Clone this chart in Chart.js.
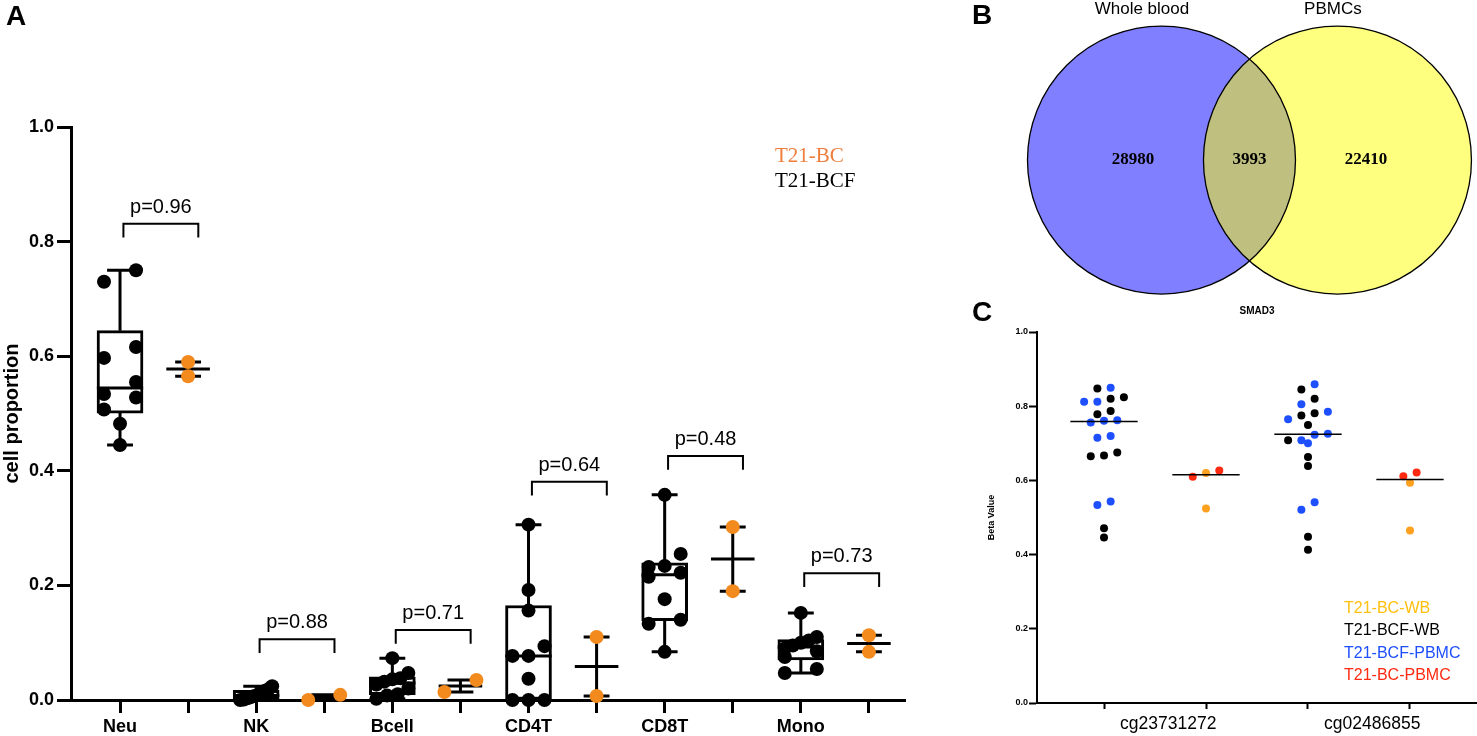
<!DOCTYPE html>
<html>
<head>
<meta charset="utf-8">
<script src="https://cdn.jsdelivr.net/npm/chart.js@4.4.1/dist/chart.umd.min.js"></script>
<style>
  body { margin: 0; background: #fff; width: 1477px; height: 736px; overflow: hidden; position: relative;
         font-family: "Liberation Sans", Arial, sans-serif; }
  canvas { position: absolute; }
  .panel { position: absolute; font-weight: bold; font-size: 28px; line-height: 1; }
  .legA { position: absolute; left: 775px; top: 143px; font-family: "Liberation Serif", "Times New Roman", serif;
          font-size: 21px; line-height: 25px; white-space: nowrap; }
  .legC { position: absolute; left: 1344px; top: 597px; font-size: 16px; line-height: 22.4px; white-space: nowrap; }
</style>
</head>
<body>
<canvas id="chartA" width="920" height="736" style="left:0;top:0"></canvas>
<canvas id="chartB" width="517" height="300" style="left:960px;top:0"></canvas>
<canvas id="chartC" width="517" height="436" style="left:960px;top:300px"></canvas>

<div class="panel" style="left:6px;top:2px">A</div>
<div class="panel" style="left:972px;top:1px">B</div>
<div class="panel" style="left:972px;top:298px">C</div>

<div class="legA">
  <div style="color:#ef7d3b">T21-BC</div>
  <div style="color:#000">T21-BCF</div>
</div>
<div class="legC">
  <div style="color:#ffc00e">T21-BC-WB</div>
  <div style="color:#000">T21-BCF-WB</div>
  <div style="color:#1d4fff">T21-BCF-PBMC</div>
  <div style="color:#ff2a10">T21-BC-PBMC</div>
</div>

<script>
// ---- panel A: estimated cell proportions ----
var cellTypes = ['Neu', 'NK', 'Bcell', 'CD4T', 'CD8T', 'Mono'];
var bcfProp = [
  [0.750, 0.730, 0.616, 0.597, 0.555, 0.534, 0.528, 0.507, 0.482, 0.445],
  [0.024, 0.019, 0.016, 0.012, 0.009, 0.007, 0.005, 0.003, 0.001, 0.000],
  [0.073, 0.047, 0.038, 0.036, 0.032, 0.027, 0.020, 0.010, 0.008, 0.002],
  [0.306, 0.192, 0.156, 0.094, 0.077, 0.077, 0.037, 0.000, 0.000, 0.000],
  [0.358, 0.255, 0.234, 0.232, 0.222, 0.215, 0.176, 0.140, 0.133, 0.084],
  [0.152, 0.110, 0.104, 0.100, 0.095, 0.090, 0.085, 0.075, 0.054, 0.047]
];
var bcProp = [
  [0.590, 0.565],
  [0.000, 0.009],
  [0.014, 0.035],
  [0.110, 0.007],
  [0.302, 0.190],
  [0.113, 0.084]
];
var pValues = ['p=0.96', 'p=0.88', 'p=0.71', 'p=0.64', 'p=0.48', 'p=0.73'];
var bracketTop = [0.831, 0.106, 0.122, 0.381, 0.426, 0.221];

// ---- panel B: overlap counts ----
var vennSets = ['Whole blood', 'PBMCs'];
var vennCounts = [28980, 3993, 22410];

// ---- panel C: SMAD3 beta values ----
var cpgSites = ['cg23731272', 'cg02486855'];
var bcfWB = [
  [0.824, 0.848, 0.820, 0.778, 0.787, 0.667, 0.675, 0.665, 0.471, 0.446],
  [0.845, 0.820, 0.781, 0.775, 0.749, 0.708, 0.663, 0.639, 0.448, 0.413]
];
var bcfPBMC = [
  [0.850, 0.812, 0.812, 0.756, 0.761, 0.762, 0.715, 0.720, 0.534, 0.543],
  [0.859, 0.805, 0.785, 0.765, 0.726, 0.708, 0.723, 0.700, 0.541, 0.521]
];
var bcWB = [
  [0.620, 0.524],
  [0.594, 0.465]
];
var bcPBMC = [
  [0.627, 0.610],
  [0.611, 0.621]
];

Chart.defaults.font.family = '"Liberation Sans", Arial, sans-serif';
Chart.defaults.color = '#000';
Chart.defaults.animation = false;
Chart.defaults.plugins.legend.display = false;
Chart.defaults.plugins.tooltip.enabled = false;

function quant(sorted, p) {
  var pos = (sorted.length + 1) * p;
  var lo = Math.floor(pos), f = pos - lo;
  if (lo < 1) return sorted[0];
  if (lo >= sorted.length) return sorted[sorted.length - 1];
  return sorted[lo - 1] + f * (sorted[lo] - sorted[lo - 1]);
}
function stats(vals) {
  var s = vals.slice().sort(function (a, b) { return a - b; });
  return { min: s[0], max: s[s.length - 1], q1: quant(s, 0.25), med: quant(s, 0.5), q3: quant(s, 0.75) };
}
function mean(vals) {
  return vals.reduce(function (a, b) { return a + b; }, 0) / vals.length;
}
// scatter-dot layout: points close in value share a row and are spread sideways
function swarm(vals, tol, place) {
  var idx = vals.map(function (v, i) { return i; }).sort(function (a, b) { return vals[b] - vals[a]; });
  var off = vals.map(function () { return 0; });
  var row = [];
  function flush() {
    row.sort(function (a, b) { return vals[a] - vals[b]; });
    row.forEach(function (i, j) { off[i] = place(j, row.length); });
    row = [];
  }
  idx.forEach(function (i) {
    if (row.length && vals[row[0]] - vals[i] >= tol) flush();
    row.push(i);
  });
  flush();
  return off;
}
function seg(arr, x1, y1, x2, y2) {
  arr.push({ x: x1, y: y1 }, { x: x2, y: y2 }, { x: x2, y: null });
}

// ================= panel A =================
var boxes = [], boxLines = [], bcLines = [], brackets = [], bcfPts = [], bcPts = [];
var placeA = function (j, n) { return n === 1 ? 0 : -0.235 + j * 0.47 / (n - 1); };

cellTypes.forEach(function (c, k) {
  var xa = 2 * k, xb = 2 * k + 1;
  var s = stats(bcfProp[k]);
  boxes.push({ x: xa, y: [s.q1, s.q3] });
  seg(boxLines, xa - 0.34, s.med, xa + 0.34, s.med);
  seg(boxLines, xa, s.q3, xa, s.max);
  seg(boxLines, xa, s.q1, xa, s.min);
  seg(boxLines, xa - 0.19, s.max, xa + 0.19, s.max);
  seg(boxLines, xa - 0.19, s.min, xa + 0.19, s.min);

  var offA = swarm(bcfProp[k], 0.0244, placeA);
  bcfProp[k].forEach(function (v, i) { bcfPts.push({ x: xa + offA[i], y: v }); });

  var m = mean(bcProp[k]);
  var lo = Math.min.apply(null, bcProp[k]), hi = Math.max.apply(null, bcProp[k]);
  seg(bcLines, xb - 0.32, m, xb + 0.32, m);
  seg(bcLines, xb, lo, xb, hi);
  seg(bcLines, xb - 0.19, lo, xb + 0.19, lo);
  seg(bcLines, xb - 0.19, hi, xb + 0.19, hi);
  var offB = swarm(bcProp[k], 0.0244, placeA);
  bcProp[k].forEach(function (v, i) { bcPts.push({ x: xb + offB[i], y: v }); });

  var top = bracketTop[k];
  brackets.push({ x: xa + 0.05, y: top - 0.024 }, { x: xa + 0.05, y: top },
                { x: xa + 1.15, y: top }, { x: xa + 1.15, y: top - 0.024 }, { x: xa + 1.15, y: null });
});

var pLabels = {
  id: 'pLabels',
  afterDatasetsDraw: function (chart) {
    var ctx = chart.ctx, x = chart.scales.x, y = chart.scales.y;
    ctx.save();
    ctx.font = '20px "Liberation Sans", Arial, sans-serif';
    ctx.fillStyle = '#000';
    ctx.textAlign = 'center';
    ctx.textBaseline = 'alphabetic';
    pValues.forEach(function (p, k) {
      ctx.fillText(p, x.getPixelForValue(2 * k + 0.6), y.getPixelForValue(bracketTop[k]) - 11);
    });
    ctx.restore();
  }
};

var ticksA = [];
for (var t = 0; t < cellTypes.length * 2; t++) ticksA.push(t);

new Chart(document.getElementById('chartA'), {
  type: 'scatter',
  data: {
    datasets: [
      { data: bcfPts, pointBackgroundColor: '#000', pointBorderWidth: 0, pointRadius: 7, order: 1, clip: false },
      { data: bcPts, pointBackgroundColor: '#f28a1e', pointBorderWidth: 0, pointRadius: 7, order: 1, clip: false },
      { type: 'line', data: brackets, borderColor: '#000', borderWidth: 2, pointRadius: 0, showLine: true, spanGaps: false, order: 2, clip: false },
      { type: 'line', data: boxLines, borderColor: '#000', borderWidth: 3, pointRadius: 0, showLine: true, spanGaps: false, order: 3, clip: false },
      { type: 'line', data: bcLines, borderColor: '#000', borderWidth: 3, pointRadius: 0, showLine: true, spanGaps: false, order: 3, clip: false },
      { type: 'bar', data: boxes, backgroundColor: '#fff', borderColor: '#000', borderWidth: 3, borderSkipped: false, barThickness: 46, order: 5 }
    ]
  },
  options: {
    responsive: false,
    layout: { autoPadding: false, padding: { top: 127, right: 15, bottom: 0, left: 0 } },
    scales: {
      x: {
        type: 'linear', min: -0.72, max: 11.53, offset: false,
        afterBuildTicks: function (s) { s.ticks = ticksA.map(function (v) { return { value: v }; }); },
        afterFit: function (s) { s.height = 36; },
        grid: { offset: false, drawOnChartArea: false, tickLength: 13, tickWidth: 3, color: '#000' },
        border: { display: true, color: '#000', width: 3 },
        ticks: {
          autoSkip: false, maxRotation: 0, padding: 3, color: '#000',
          font: { size: 18, weight: 'bold' },
          callback: function (v) { return v % 2 === 0 ? cellTypes[v / 2] : ''; }
        }
      },
      y: {
        min: 0, max: 1,
        afterFit: function (s) { s.width = 71; },
        grid: { drawOnChartArea: false, tickLength: 14, tickWidth: 3, color: '#000' },
        border: { display: true, color: '#000', width: 3 },
        ticks: { stepSize: 0.2, padding: 3, color: '#000', font: { size: 18, weight: 'bold' },
                 callback: function (v) { return v.toFixed(1); } },
        title: { display: true, text: 'cell proportion', color: '#000', font: { size: 20, weight: 'bold' }, padding: 0 }
      }
    }
  },
  plugins: [pLabels]
});

// ================= panel B =================
var vennX = vennSets.map(function (s, i) { return i - 0.5; });
var vennText = {
  id: 'vennText',
  afterDatasetsDraw: function (chart) {
    var ctx = chart.ctx, x = chart.scales.x, y = chart.scales.y;
    ctx.save();
    ctx.fillStyle = '#000';
    ctx.textAlign = 'center';
    ctx.font = '17px "Liberation Sans", Arial, sans-serif';
    ctx.textBaseline = 'alphabetic';
    var nameShift = [-0.111, -0.026];
    vennSets.forEach(function (s, i) { ctx.fillText(s, x.getPixelForValue(vennX[i] + nameShift[i]), 14); });
    ctx.font = 'bold 17px "Liberation Serif", "Times New Roman", serif';
    ctx.textBaseline = 'middle';
    var cx = [vennX[0] - 0.162, (vennX[0] + vennX[1]) / 2, vennX[1] + 0.162];
    vennCounts.forEach(function (c, i) { ctx.fillText(String(c), x.getPixelForValue(cx[i]), y.getPixelForValue(0)); });
    ctx.restore();
  }
};

new Chart(document.getElementById('chartB'), {
  type: 'scatter',
  data: {
    datasets: [
      { data: [{ x: vennX[0], y: 0 }], pointBackgroundColor: 'rgba(0,0,255,0.5)', pointBorderWidth: 0, pointRadius: 134, order: 4, clip: false },
      { data: [{ x: vennX[1], y: 0 }], pointBackgroundColor: 'rgba(255,255,0,0.5)', pointBorderWidth: 0, pointRadius: 134, order: 3, clip: false },
      { data: [{ x: vennX[0], y: 0 }], pointBackgroundColor: 'rgba(0,0,0,0)', pointBorderColor: '#000', pointBorderWidth: 1.3, pointRadius: 134, order: 2, clip: false },
      { data: [{ x: vennX[1], y: 0 }], pointBackgroundColor: 'rgba(0,0,0,0)', pointBorderColor: '#000', pointBorderWidth: 1.3, pointRadius: 134, order: 1, clip: false }
    ]
  },
  options: {
    responsive: false,
    layout: { autoPadding: false, padding: 0 },
    scales: {
      x: { display: false, min: -1.645, max: 1.293 },
      y: { display: false, min: -0.795, max: 0.909 }
    }
  },
  plugins: [vennText]
});

// ================= panel C =================
var placeC = function (j, n) { return (j - (n - 1) / 2) * 0.13; };
var ptsWB = [], ptsPBMC = [], ptsBcWB = [], ptsBcPBMC = [], medLines = [];
cpgSites.forEach(function (site, k) {
  var xa = 2 * k, xb = 2 * k + 1;
  var va = bcfWB[k].concat(bcfPBMC[k]);
  var oa = swarm(va, 0.022, placeC);
  va.forEach(function (v, i) {
    (i < bcfWB[k].length ? ptsWB : ptsPBMC).push({ x: xa + oa[i], y: v });
  });
  var vb = bcWB[k].concat(bcPBMC[k]);
  var ob = swarm(vb, 0.022, placeC);
  vb.forEach(function (v, i) {
    (i < bcWB[k].length ? ptsBcWB : ptsBcPBMC).push({ x: xb + ob[i], y: v });
  });
  var ma = stats(va).med, mb = stats(vb).med;
  seg(medLines, xa - 0.33, ma, xa + 0.33, ma);
  seg(medLines, xb - 0.33, mb, xb + 0.33, mb);
});

var ticksC = [], labelPosC = [];
cpgSites.forEach(function (s, k) {
  ticksC.push(2 * k, 2 * k + 1);
  labelPosC.push(2 * k + 0.63);
});
var allTicksC = ticksC.concat(labelPosC).sort(function (a, b) { return a - b; });

new Chart(document.getElementById('chartC'), {
  type: 'scatter',
  data: {
    datasets: [
      { type: 'line', data: medLines, borderColor: '#000', borderWidth: 1.5, pointRadius: 0, showLine: true, spanGaps: false, order: 0 },
      { data: ptsWB, pointBackgroundColor: '#000', pointBorderWidth: 0, pointRadius: 4, order: 1, clip: false },
      { data: ptsPBMC, pointBackgroundColor: '#1d4fff', pointBorderWidth: 0, pointRadius: 4, order: 1, clip: false },
      { data: ptsBcWB, pointBackgroundColor: '#ffa01e', pointBorderWidth: 0, pointRadius: 4, order: 1, clip: false },
      { data: ptsBcPBMC, pointBackgroundColor: '#ff2a10', pointBorderWidth: 0, pointRadius: 4, order: 1, clip: false }
    ]
  },
  options: {
    responsive: false,
    layout: { autoPadding: false, padding: { top: 0, right: 0, bottom: 0, left: 22 } },
    plugins: {
      title: { display: true, text: 'SMAD3', fullSize: false, color: '#000',
               font: { size: 10, weight: 'bold' }, padding: { top: 5, bottom: 15 } }
    },
    scales: {
      x: {
        type: 'linear', min: -0.657, max: 3.657,
        afterBuildTicks: function (s) { s.ticks = allTicksC.map(function (v) { return { value: v }; }); },
        afterFit: function (s) { s.height = 33; },
        grid: {
          drawOnChartArea: false, tickLength: 6, tickWidth: 2,
          tickColor: function (c) { return ticksC.indexOf(c.tick.value) >= 0 ? '#000' : 'rgba(0,0,0,0)'; }
        },
        border: { display: true, color: '#000', width: 2 },
        ticks: {
          autoSkip: false, maxRotation: 0, padding: 5, color: '#000', font: { size: 17.5 },
          callback: function (v) { var i = labelPosC.indexOf(v); return i >= 0 ? cpgSites[i] : ''; }
        }
      },
      y: {
        min: 0, max: 1,
        afterFit: function (s) { s.width = 55; },
        grid: { drawOnChartArea: false, tickLength: 8, tickWidth: 2, color: '#000' },
        border: { display: true, color: '#000', width: 2 },
        ticks: { stepSize: 0.2, padding: 1, color: '#000', font: { size: 9, weight: 'bold' },
                 callback: function (v) { return v.toFixed(1); } },
        title: { display: true, text: 'Beta Value', color: '#000', font: { size: 9, weight: 'bold' } }
      }
    }
  }
});
</script>
</body>
</html>
